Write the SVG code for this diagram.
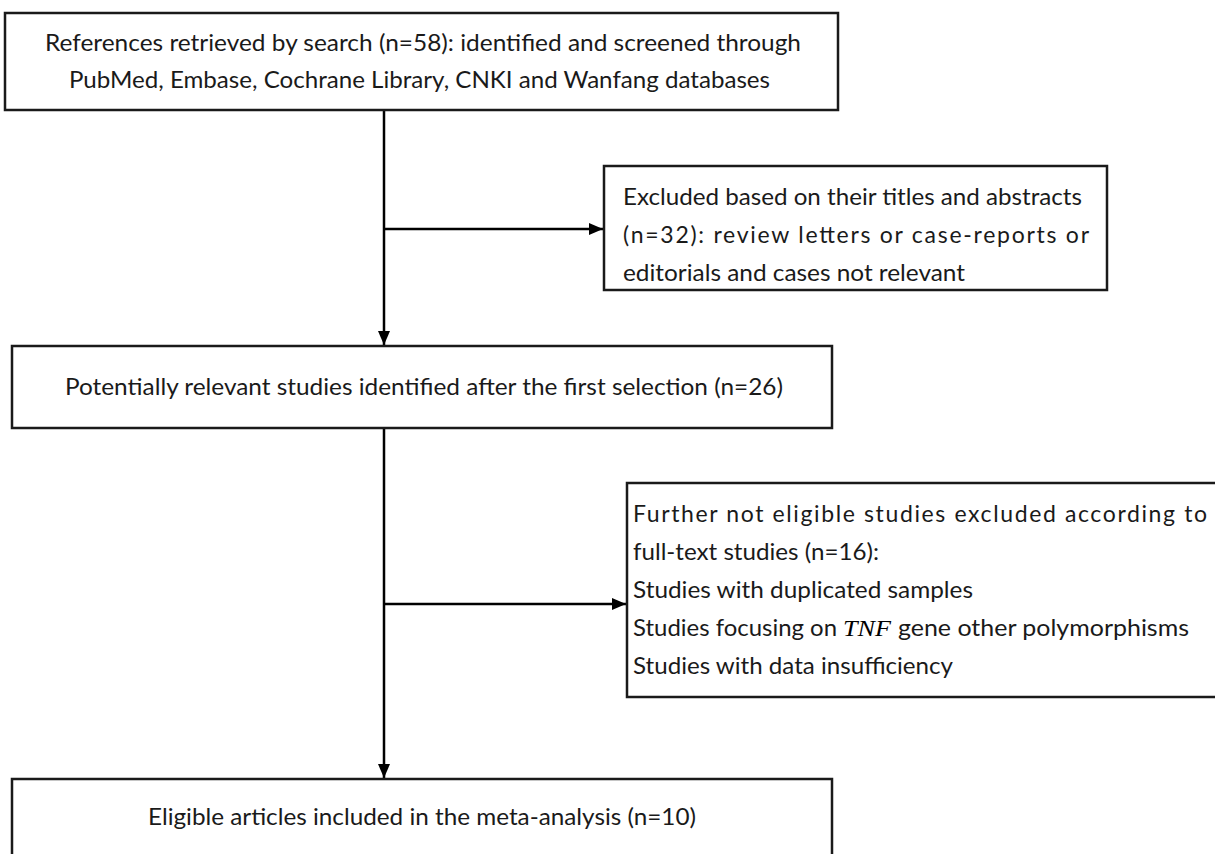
<svg xmlns="http://www.w3.org/2000/svg" width="1215" height="854" viewBox="0 0 1215 854">
<style>
.box{fill:#fff;stroke:#1a1a1a;stroke-width:2.5}
.t{font-family:Lato,"Liberation Sans",Arial,sans-serif;font-size:23px;fill:#1a1a1a}
.it{font-family:"Liberation Serif","Times New Roman",serif;font-style:italic;font-size:24px}
.ln{stroke:#000;stroke-width:2.5;fill:none}
</style>
<defs>
<marker id="ah" viewBox="0 0 14 12" refX="14" refY="6" markerWidth="14" markerHeight="12" markerUnits="userSpaceOnUse" orient="auto">
<path d="M0,0 L14,6 L0,12 Z" fill="#000"/>
</marker>
</defs>
<rect width="1215" height="854" fill="#fff"/>
<g id="connectors">
<line class="ln" x1="384" y1="110" x2="384" y2="345" marker-end="url(#ah)"/>
<line class="ln" x1="384" y1="229" x2="603" y2="229" marker-end="url(#ah)"/>
<line class="ln" x1="384" y1="428" x2="384" y2="778" marker-end="url(#ah)"/>
<line class="ln" x1="384" y1="604" x2="626" y2="604" marker-end="url(#ah)"/>
</g>
<g id="n1">
<rect class="box" x="5" y="13" width="833" height="97"/>
<text class="t" x="45" y="51" textLength="756" lengthAdjust="spacingAndGlyphs">References retrieved by search (n=58): identified and screened through</text>
<text class="t" x="69" y="88" textLength="701" lengthAdjust="spacingAndGlyphs">PubMed, Embase, Cochrane Library, CNKI and Wanfang databases</text>
</g>
<g id="n2">
<rect class="box" x="604" y="166" width="503" height="124"/>
<text class="t" x="623" y="205" textLength="459" lengthAdjust="spacingAndGlyphs">Excluded based on their titles and abstracts</text>
<text class="t" x="623" y="243" textLength="466" lengthAdjust="spacing">(n=32): review letters or case-reports or</text>
<text class="t" x="623" y="281" textLength="342" lengthAdjust="spacingAndGlyphs">editorials and cases not relevant</text>
</g>
<g id="n3">
<rect class="box" x="12" y="346" width="820" height="82"/>
<text class="t" x="65" y="395" textLength="718" lengthAdjust="spacingAndGlyphs">Potentially relevant studies identified after the first selection (n=26)</text>
</g>
<g id="n4">
<rect class="box" x="627" y="483" width="600" height="214"/>
<text class="t" x="633" y="522" textLength="574" lengthAdjust="spacing">Further not eligible studies excluded according to</text>
<text class="t" x="633" y="560" textLength="246" lengthAdjust="spacingAndGlyphs">full-text studies (n=16):</text>
<text class="t" x="633" y="598" textLength="340" lengthAdjust="spacingAndGlyphs">Studies with duplicated samples</text>
<text class="t" x="633" y="636" textLength="204" lengthAdjust="spacingAndGlyphs">Studies focusing on</text>
<text class="it" x="843" y="636" textLength="48" lengthAdjust="spacingAndGlyphs">TNF</text>
<text class="t" x="898" y="636" textLength="291" lengthAdjust="spacingAndGlyphs">gene other polymorphisms</text>
<text class="t" x="633" y="674" textLength="320" lengthAdjust="spacingAndGlyphs">Studies with data insufficiency</text>
</g>
<g id="n5">
<rect class="box" x="12" y="779" width="820" height="90"/>
<text class="t" x="148" y="825" textLength="548" lengthAdjust="spacingAndGlyphs">Eligible articles included in the meta-analysis (n=10)</text>
</g>
</svg>
